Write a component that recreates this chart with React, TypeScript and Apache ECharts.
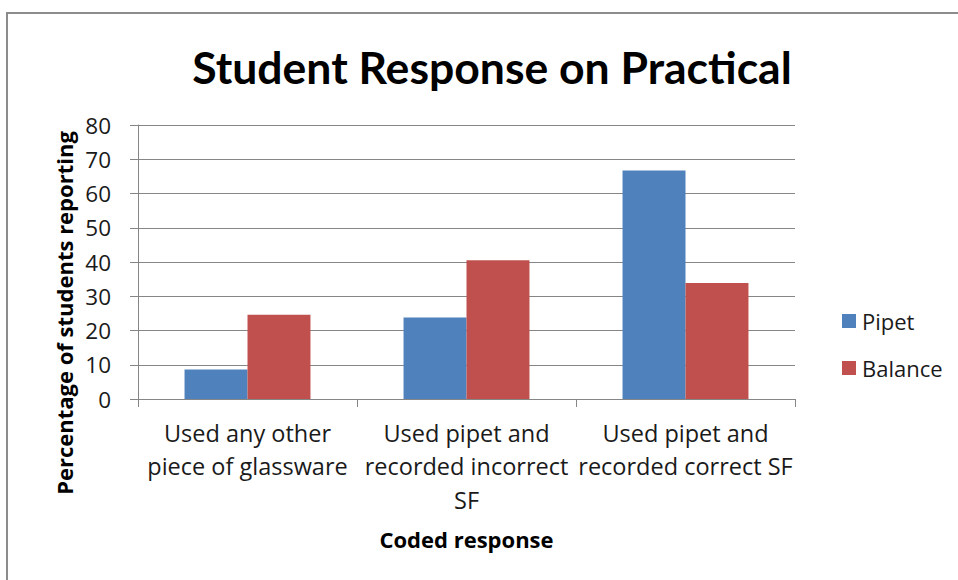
import React, { useEffect, useRef } from "react";
import * as echarts from "echarts";

const categories = [
  "Used any other\npiece of glassware",
  "Used pipet and\nrecorded incorrect\nSF",
  "Used pipet and\nrecorded correct SF",
];
const pipet = [8.6, 23.8, 66.7];
const balance = [24.6, 40.5, 33.9];
const yTicks = { min: 0, max: 80, interval: 10 };

const FONT = "'Open Sans', Lato, sans-serif";
const TITLE_FONT = "Lato, 'Open Sans', sans-serif";

export default function App() {
  const ref = useRef<HTMLDivElement>(null);
  useEffect(() => {
    if (!ref.current) return;
    const chart = echarts.init(ref.current, null, { renderer: "svg" });
    chart.setOption({
      animation: false,
      backgroundColor: "#ffffff",
      textStyle: { fontFamily: FONT },
      title: {
        text: "Student Response on Practical",
        left: 487,
        top: 39,
        textAlign: "center",
        textStyle: { fontFamily: TITLE_FONT, fontSize: 44.5, fontWeight: "bold", color: "#000" },
      },
      grid: { left: 138, top: 125, width: 657, height: 274, containLabel: false },
      legend: {
        orient: "vertical",
        left: 837,
        top: 305,
        itemWidth: 14,
        itemHeight: 14,
        itemGap: 25,
        icon: "rect",
        textStyle: { fontFamily: FONT, fontSize: 22, color: "#1a1a1a", padding: [0, 0, 0, 1] },
        data: ["Pipet", "Balance"],
      },
      xAxis: {
        type: "category",
        data: categories,
        axisLine: { lineStyle: { color: "#868686", width: 1 } },
        axisTick: { show: true, length: 8, lineStyle: { color: "#868686" } },
        axisLabel: {
          fontFamily: FONT,
          fontSize: 23.5,
          color: "#1a1a1a",
          lineHeight: 33.5,
          margin: 17,
          interval: 0,
        },
        name: "Coded response",
        nameLocation: "middle",
        nameGap: 129,
        nameTextStyle: { fontFamily: FONT, fontSize: 22, fontWeight: "bold", color: "#000" },
      },
      yAxis: {
        type: "value",
        min: yTicks.min,
        max: yTicks.max,
        interval: yTicks.interval,
        axisLine: { show: true, lineStyle: { color: "#868686" } },
        axisTick: { show: true, length: 8, lineStyle: { color: "#868686" } },
        splitLine: { show: true, lineStyle: { color: "#868686", width: 1 } },
        axisLabel: { fontFamily: FONT, fontSize: 22.5, color: "#1a1a1a", margin: 27 },
      },
      graphic: [
        {
          type: "rect",
          shape: { x: 7, y: 13, width: 1000, height: 600 },
          style: { fill: "none", stroke: "#8c8c8c", lineWidth: 2 },
        },
        {
          type: "text",
          x: 64,
          y: 313,
          rotation: Math.PI / 2,
          style: {
            text: "Percentage of students reporting",
            fontFamily: FONT,
            fontSize: 22,
            fontWeight: "bold",
            fill: "#000",
            align: "center",
            verticalAlign: "middle",
          },
        },
      ],
      series: [
        {
          name: "Pipet",
          type: "bar",
          data: pipet,
          barGap: "0%",
          barCategoryGap: "42.5%",
          itemStyle: { color: "#4F81BD" },
        },
        {
          name: "Balance",
          type: "bar",
          data: balance,
          barGap: "0%",
          barCategoryGap: "42.5%",
          itemStyle: { color: "#C0504D" },
        },
      ],
    });
    return () => chart.dispose();
  }, []);
  return (
    <div
      ref={ref}
      style={{ position: "fixed", left: 0, top: 0, width: 958, height: 580 }}
    />
  );
}
